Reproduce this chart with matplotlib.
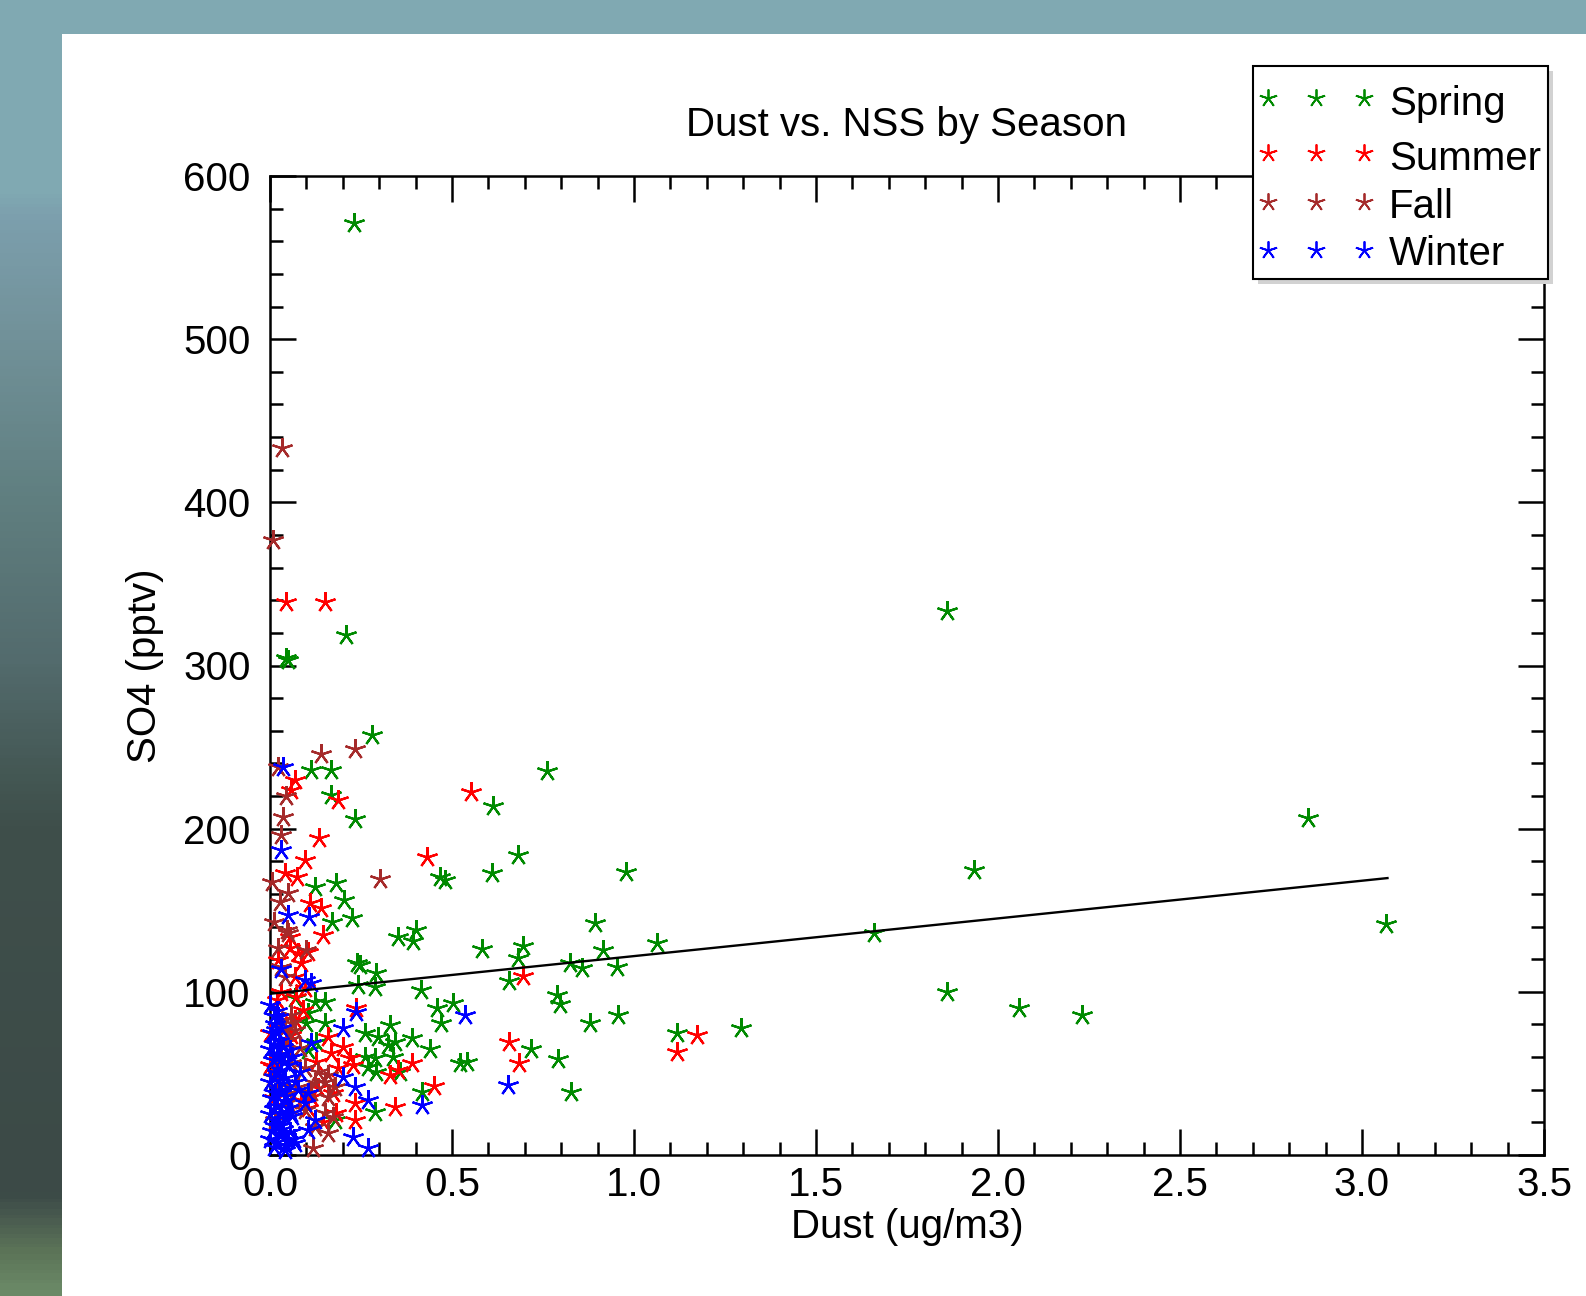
import numpy as np
import matplotlib
matplotlib.use('Agg')
import matplotlib.pyplot as plt
from matplotlib.lines import Line2D
from matplotlib.patches import Rectangle
from matplotlib.colors import LinearSegmentedColormap
from matplotlib.ticker import MultipleLocator, FormatStrFormatter

plt.rcParams['font.family'] = ['Liberation Sans', 'DejaVu Sans']

# season data: dust (ug/m3) vs SO4 (pptv)
spring_x = [0.231, 1.859, 0.209, 0.043, 0.050, 0.279, 0.761, 0.112, 0.167, 0.168,
            0.233, 2.852, 0.681, 0.610, 0.978, 1.934, 0.467, 0.481, 0.613, 0.123,
            0.180, 0.203, 0.225, 0.170, 0.893, 3.067, 1.658, 0.352, 0.401, 0.393,
            1.063, 0.695, 0.681, 0.824, 0.857, 0.915, 0.953, 0.583, 0.657, 0.415,
            0.459, 0.503, 0.470, 0.789, 0.797, 0.879, 0.956, 1.118, 1.294, 0.390,
            0.440, 0.717, 0.791, 0.522, 0.541, 0.418, 0.827, 1.859, 2.059, 2.232,
            0.246, 0.240, 0.292, 0.242, 0.288, 0.150, 0.123, 0.104, 0.150, 0.100,
            0.329, 0.260, 0.297, 0.343, 0.324, 0.260, 0.288, 0.338, 0.269, 0.292,
            0.356, 0.288, 0.178, 0.127, 0.104, 0.068]
spring_y = [571, 333.5, 318.7, 304.4, 303.5, 257.4, 235.3, 236, 236, 220.6,
            205.9, 206.5, 183.9, 172.8, 173.4, 174.5, 170.4, 168.5, 213.9, 164.4,
            166.5, 156.3, 145, 142.6, 142.2, 141.3, 136, 133.8, 137.9, 131.2,
            129.9, 128.1, 120.7, 117.7, 114.6, 125.6, 115.2, 126.2, 106.6, 101.1,
            90.1, 93.2, 80.9, 98.1, 92.5, 80.9, 85.8, 74.8, 77.8, 71.7,
            65.0, 65.0, 58.8, 56.4, 57.0, 38.6, 38.6, 100, 90, 85.7,
            116.4, 117.7, 111.3, 104.2, 103.2, 94, 94, 87, 80.7, 80.7,
            79.7, 74.6, 72.5, 69.5, 67.4, 60.3, 59.3, 60.3, 54.1, 51.1,
            51.1, 26.5, 21.5, 69.5, 64.4, 96]

summer_x = [0.044, 0.151, 0.552, 0.431, 0.695, 0.657, 0.684, 1.173, 1.118, 0.390,
            0.451, 0.068, 0.058, 0.187, 0.135, 0.095, 0.040, 0.075, 0.109, 0.141,
            0.146, 0.054, 0.235, 0.159, 0.200, 0.168, 0.219, 0.228, 0.187, 0.127,
            0.352, 0.329, 0.132, 0.173, 0.233, 0.182, 0.233, 0.343, 0.104, 0.072,
            0.091, 0.068, 0.059, 0.045, 0.008, 0.040, 0.086, 0.146, 0.113, 0.054,
            0.022, 0.077, 0.104, 0.086, 0.068, 0.095, 0.000, 0.010, 0.020, 0.000,
            0.030]
summer_y = [339, 339, 222.5, 182.8, 109.7, 69.3, 56.4, 73.5, 63.1, 56.4,
            42.3, 229.8, 223.7, 217.6, 194, 180.8, 172.6, 170.6, 154.3, 151.2,
            134.8, 133.8, 90, 72.5, 66.4, 62.3, 59.3, 55.2, 53.1, 57.2,
            52.1, 49.0, 40.9, 37.8, 31.7, 25.6, 21.5, 29.6, 28.6, 97,
            88.9, 82.7, 73.5, 69.4, 54.1, 47, 33.7, 20.4, 35.7, 126.7,
            119.5, 123.6, 124.6, 117.5, 109.3, 102.2, 55, 35, 95, 75,
            100]

fall_x = [0.032, 0.009, 0.233, 0.139, 0.022, 0.045, 0.036, 0.029, 0.301, 0.005,
          0.049, 0.027, 0.011, 0.049, 0.099, 0.031, 0.040, 0.022, 0.059, 0.059,
          0.040, 0.068, 0.049, 0.082, 0.031, 0.059, 0.095, 0.132, 0.159, 0.150,
          0.123, 0.178, 0.077, 0.049, 0.113, 0.159, 0.059, 0.095, 0.150, 0.123,
          0.159, 0.118, 0.173, 0.022, 0.013, 0.008, 0.046]
fall_y = [433, 376.9, 248.6, 245.6, 238, 220, 207, 196, 169, 167.5,
          160.4, 155, 143, 135.9, 125.6, 115.4, 109.3, 126.7, 85.8, 80.7,
          77.6, 76.6, 70.5, 65.4, 61.3, 56.2, 53.1, 51.1, 49.0, 44.9,
          43.9, 41.9, 41.9, 37.8, 38.8, 35.7, 29.6, 27.6, 25.6, 17.4,
          13.3, 4.1, 23.5, 41.9, 21.5, 48, 137.9]

winter_x = [0.036, 0.031, 0.049, 0.106, 0.536, 0.654, 0.418, 0.031, 0.095, 0.113,
            0.237, 0.022, 0.200, 0.113, 0.054, 0.022, 0.082, 0.200, 0.233, 0.269,
            0.077, 0.031, 0.104, 0.095, 0.059, 0.123, 0.228, 0.269, 0.104, 0.068,
            0.040, 0.017,
            0.000, 0.010, 0.020, 0.030, 0.040, 0.050, 0.005, 0.015, 0.025, 0.035,
            0.045, 0.055, 0.000, 0.010, 0.020, 0.030, 0.040, 0.050, 0.060, 0.005,
            0.015, 0.025, 0.035, 0.045, 0.000, 0.010, 0.020, 0.030, 0.040, 0.050,
            0.008, 0.018, 0.028, 0.038, 0.000, 0.012, 0.024, 0.036, 0.005, 0.015,
            0.030, 0.010, 0.020, 0.000, 0.025, 0.065, 0.070, 0.060]
winter_y = [238, 187, 147, 146, 85.8, 42.9, 30.6, 113.8, 107.2, 105.2,
            87.8, 84.8, 77.6, 68.5, 64.4, 61.3, 51.1, 48.0, 41.9, 33.7,
            39.8, 37.8, 37.8, 31.7, 25.6, 21.5, 11.2, 4.1, 15.3, 7.2,
            3.1, 76.6,
            10, 5, 8, 12, 6, 9, 15, 18, 20, 16,
            22, 14, 25, 28, 30, 26, 33, 29, 24, 35,
            38, 40, 44, 36, 45, 48, 50, 52, 47, 55,
            58, 60, 62, 57, 65, 68, 70, 66, 75, 80,
            78, 85, 88, 92, 18, 10, 45, 60]

# linear fit drawn over the data range
fit_slope = 23.1
fit_intercept = 98.8
fit_range = [0.0, 3.07]

seasons = ['Spring', 'Summer', 'Fall', 'Winter']
colors = ['#008a00', '#ff0000', '#a52a2a', '#0000ff']
STAR = (5, 2, 0)

W, H = 1586, 1296
fig = plt.figure(figsize=(W / 100, H / 100), dpi=100)

# background: teal band on top, gradient strip on the left, white panel
bg = fig.add_axes([0, 0, 1, 1], zorder=-10)
bg.set_xlim(0, W)
bg.set_ylim(H, 0)
bg.axis('off')
stops = [(0, '#80a9b2'), (190 / H, '#80a9b2'), (215 / H, '#7c9fad'), (330 / H, '#72929a'),
         (496 / H, '#607f80'), (661 / H, '#536b6d'), (785 / H, '#435652'),
         (826 / H, '#3f4f4b'), (1198 / H, '#3c4a47'), (1223 / H, '#4a5c50'),
         (1256 / H, '#5c7458'), (1, '#6b8a67')]
cmap = LinearSegmentedColormap.from_list('strip', stops)
grad = np.linspace(0, 1, 400).reshape(-1, 1)
bg.imshow(grad, cmap=cmap, extent=[0, 64, H, 0], aspect='auto')
bg.add_patch(Rectangle((0, 0), W, 34, color='#80a9b2', lw=0))
bg.add_patch(Rectangle((62, 34), W - 62, H - 34, color='white', lw=0))

ax = fig.add_axes([270 / W, 1 - 1155 / H, (1544 - 270) / W, (1155 - 176) / H])
ax.patch.set_alpha(0)

datasets = [(spring_x, spring_y), (summer_x, summer_y), (fall_x, fall_y), (winter_x, winter_y)]
for (xs, ys), c in zip(datasets, colors):
    ax.plot(xs, ys, ls='none', marker=STAR, ms=15, mew=1.6, mec=c, mfc=c,
            clip_on=False, zorder=3)

fx = np.array(fit_range)
ax.plot(fx, fit_intercept + fit_slope * fx, color='black', lw=1.7, zorder=4)

ax.set_xlim(0, 3.5)
ax.set_ylim(0, 600)
ax.xaxis.set_major_locator(MultipleLocator(0.5))
ax.xaxis.set_minor_locator(MultipleLocator(0.1))
ax.xaxis.set_major_formatter(FormatStrFormatter('%.1f'))
ax.yaxis.set_major_locator(MultipleLocator(100))
ax.yaxis.set_minor_locator(MultipleLocator(20))
ax.tick_params(which='both', direction='in', top=True, right=True, width=1.8,
               labelsize=29, colors='black')
ax.tick_params(which='major', length=18.7)
ax.tick_params(which='minor', length=9.4)
ax.tick_params(axis='x', which='both', pad=8)
ax.tick_params(axis='y', which='both', pad=14)
for s in ax.spines.values():
    s.set_linewidth(1.8)

ax.set_xlabel('Dust (ug/m3)', fontsize=29, labelpad=3)
ax.set_ylabel('SO4 (pptv)', fontsize=29, labelpad=14)
fig.text(907 / W, 1 - 125 / H, 'Dust vs. NSS by Season', fontsize=29,
         ha='center', va='center')

# legend box drawn in pixel space on an overlay, IDL style (3 symbols per row)
ov = fig.add_axes([0, 0, 1, 1], zorder=10)
ov.set_xlim(0, W)
ov.set_ylim(H, 0)
ov.axis('off')
ov.add_patch(Rectangle((1258, 71), 295, 213, facecolor='#d2d2d2', lw=0))
ov.add_patch(Rectangle((1253, 66), 295, 213, facecolor='white', edgecolor='black', lw=1.5))
row_mid = [98, 153, 202, 250]
row_base = [115, 170, 218, 265]
sym_x = [1268, 1316, 1364]
for name, c, ym, yb in zip(seasons, colors, row_mid, row_base):
    ov.plot(sym_x, [ym] * 3, ls='none', marker=STAR, ms=13, mew=1.3, color=c)
    ov.text(1389, yb, name, fontsize=29, ha='left', va='baseline')

fig.savefig('out.png', dpi=100)
